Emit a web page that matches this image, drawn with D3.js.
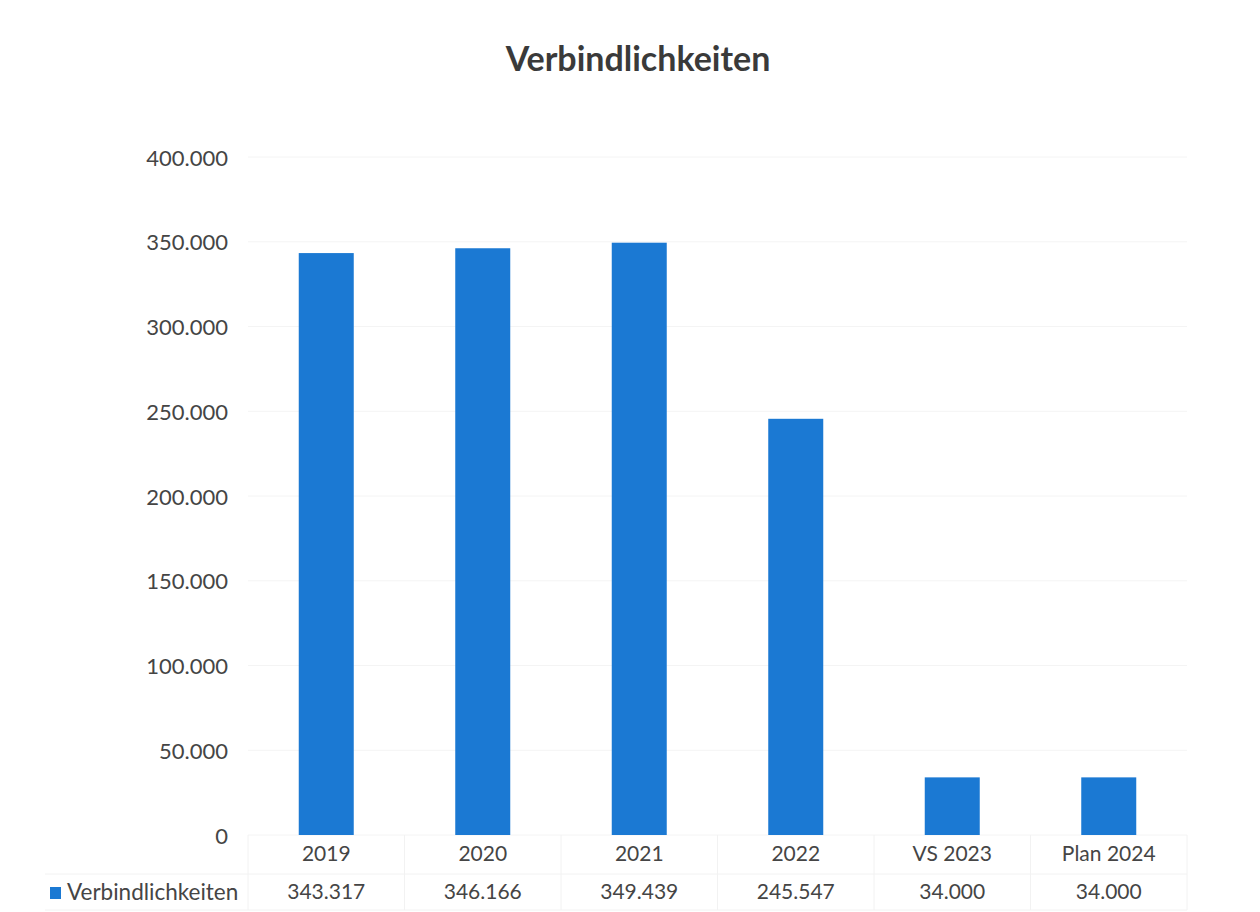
<!DOCTYPE html>
<html>
<head>
<meta charset="utf-8">
<script src="https://cdn.jsdelivr.net/npm/d3@7"></script>
<style>
  body { margin: 0; background: #fff; }
  svg { font-family: Lato, "Open Sans", sans-serif; }
</style>
</head>
<body>
<script>
const categories = ['2019', '2020', '2021', '2022', 'VS 2023', 'Plan 2024'];
const values = [343317, 346166, 349439, 245547, 34000, 34000];
const yTicks = [0, 50000, 100000, 150000, 200000, 250000, 300000, 350000, 400000];
const seriesName = 'Verbindlichkeiten';

const W = 1260, H = 912;
const plot = {left: 248, right: 1187, top: 157, bottom: 835};
const barColor = '#1b79d3';
const textColor = '#454545';

const fmt = v => v === 0 ? '0' : d3.format(',')(v).replace(/,/g, '.');

const svg = d3.select('body').append('svg')
    .attr('width', W)
    .attr('height', H);

// x scale
const x = d3.scaleBand()
    .domain(categories)
    .range([plot.left, plot.right])
    .paddingInner(0)
    .paddingOuter(0);

// y scale
const y = d3.scaleLinear()
    .domain([0, 400000])
    .range([plot.bottom, plot.top]);

// gridlines
svg.append('g')
    .selectAll('line')
    .data(yTicks)
    .enter().append('line')
    .attr('x1', plot.left)
    .attr('x2', plot.right)
    .attr('y1', d => y(d))
    .attr('y2', d => y(d))
    .attr('stroke', '#f4f4f4')
    .attr('stroke-width', 1);

// y labels
svg.append('g')
    .selectAll('text')
    .data(yTicks)
    .enter().append('text')
    .attr('x', 228)
    .attr('y', d => y(d) + 3)
    .attr('text-anchor', 'end')
    .attr('dominant-baseline', 'middle')
    .attr('font-size', 22)
    .attr('fill', textColor)
    .text(fmt);

// bars
const barW = 55;
svg.append('g')
    .selectAll('rect')
    .data(values)
    .enter().append('rect')
    .attr('x', (d, i) => x(categories[i]) + x.bandwidth() / 2 - barW / 2)
    .attr('width', barW)
    .attr('y', d => y(d))
    .attr('height', d => y(0) - y(d))
    .attr('fill', barColor);

// data table
const row1 = 856, row2 = 894;
const tbl = svg.append('g');

// faint table borders
const borderColor = '#f2f2f2';
const colEdges = categories.map(c => x(c)).concat([plot.right]);
tbl.selectAll('.vline')
    .data(colEdges)
    .enter().append('line')
    .attr('x1', d => d).attr('x2', d => d)
    .attr('y1', plot.bottom).attr('y2', 910)
    .attr('stroke', borderColor);
tbl.append('line')
    .attr('x1', plot.left).attr('x2', plot.right)
    .attr('y1', 874).attr('y2', 874)
    .attr('stroke', borderColor);
tbl.append('line')
    .attr('x1', 45).attr('x2', plot.right)
    .attr('y1', 910).attr('y2', 910)
    .attr('stroke', borderColor);
tbl.append('line')
    .attr('x1', 45).attr('x2', plot.left)
    .attr('y1', 874).attr('y2', 874)
    .attr('stroke', borderColor);

tbl.selectAll('.cat')
    .data(categories)
    .enter().append('text')
    .attr('x', d => x(d) + x.bandwidth() / 2)
    .attr('y', row1)
    .attr('text-anchor', 'middle')
    .attr('dominant-baseline', 'middle')
    .attr('font-size', 21)
    .attr('fill', textColor)
    .text(d => d);

tbl.selectAll('.val')
    .data(values)
    .enter().append('text')
    .attr('x', (d, i) => x(categories[i]) + x.bandwidth() / 2)
    .attr('y', row2)
    .attr('text-anchor', 'middle')
    .attr('dominant-baseline', 'middle')
    .attr('font-size', 21)
    .attr('fill', textColor)
    .text(fmt);

// legend key
tbl.append('rect')
    .attr('x', 50).attr('y', 887)
    .attr('width', 11).attr('height', 12)
    .attr('fill', barColor);
tbl.append('text')
    .attr('x', 67)
    .attr('y', row2)
    .attr('dominant-baseline', 'middle')
    .attr('font-size', 22.5)
    .attr('fill', textColor)
    .text(seriesName);

// title
svg.append('text')
    .attr('x', 638)
    .attr('y', 62)
    .attr('text-anchor', 'middle')
    .attr('dominant-baseline', 'middle')
    .attr('font-size', 34)
    .attr('font-weight', 'bold')
    .attr('fill', '#3a3a3a')
    .text('Verbindlichkeiten');
</script>
</body>
</html>
